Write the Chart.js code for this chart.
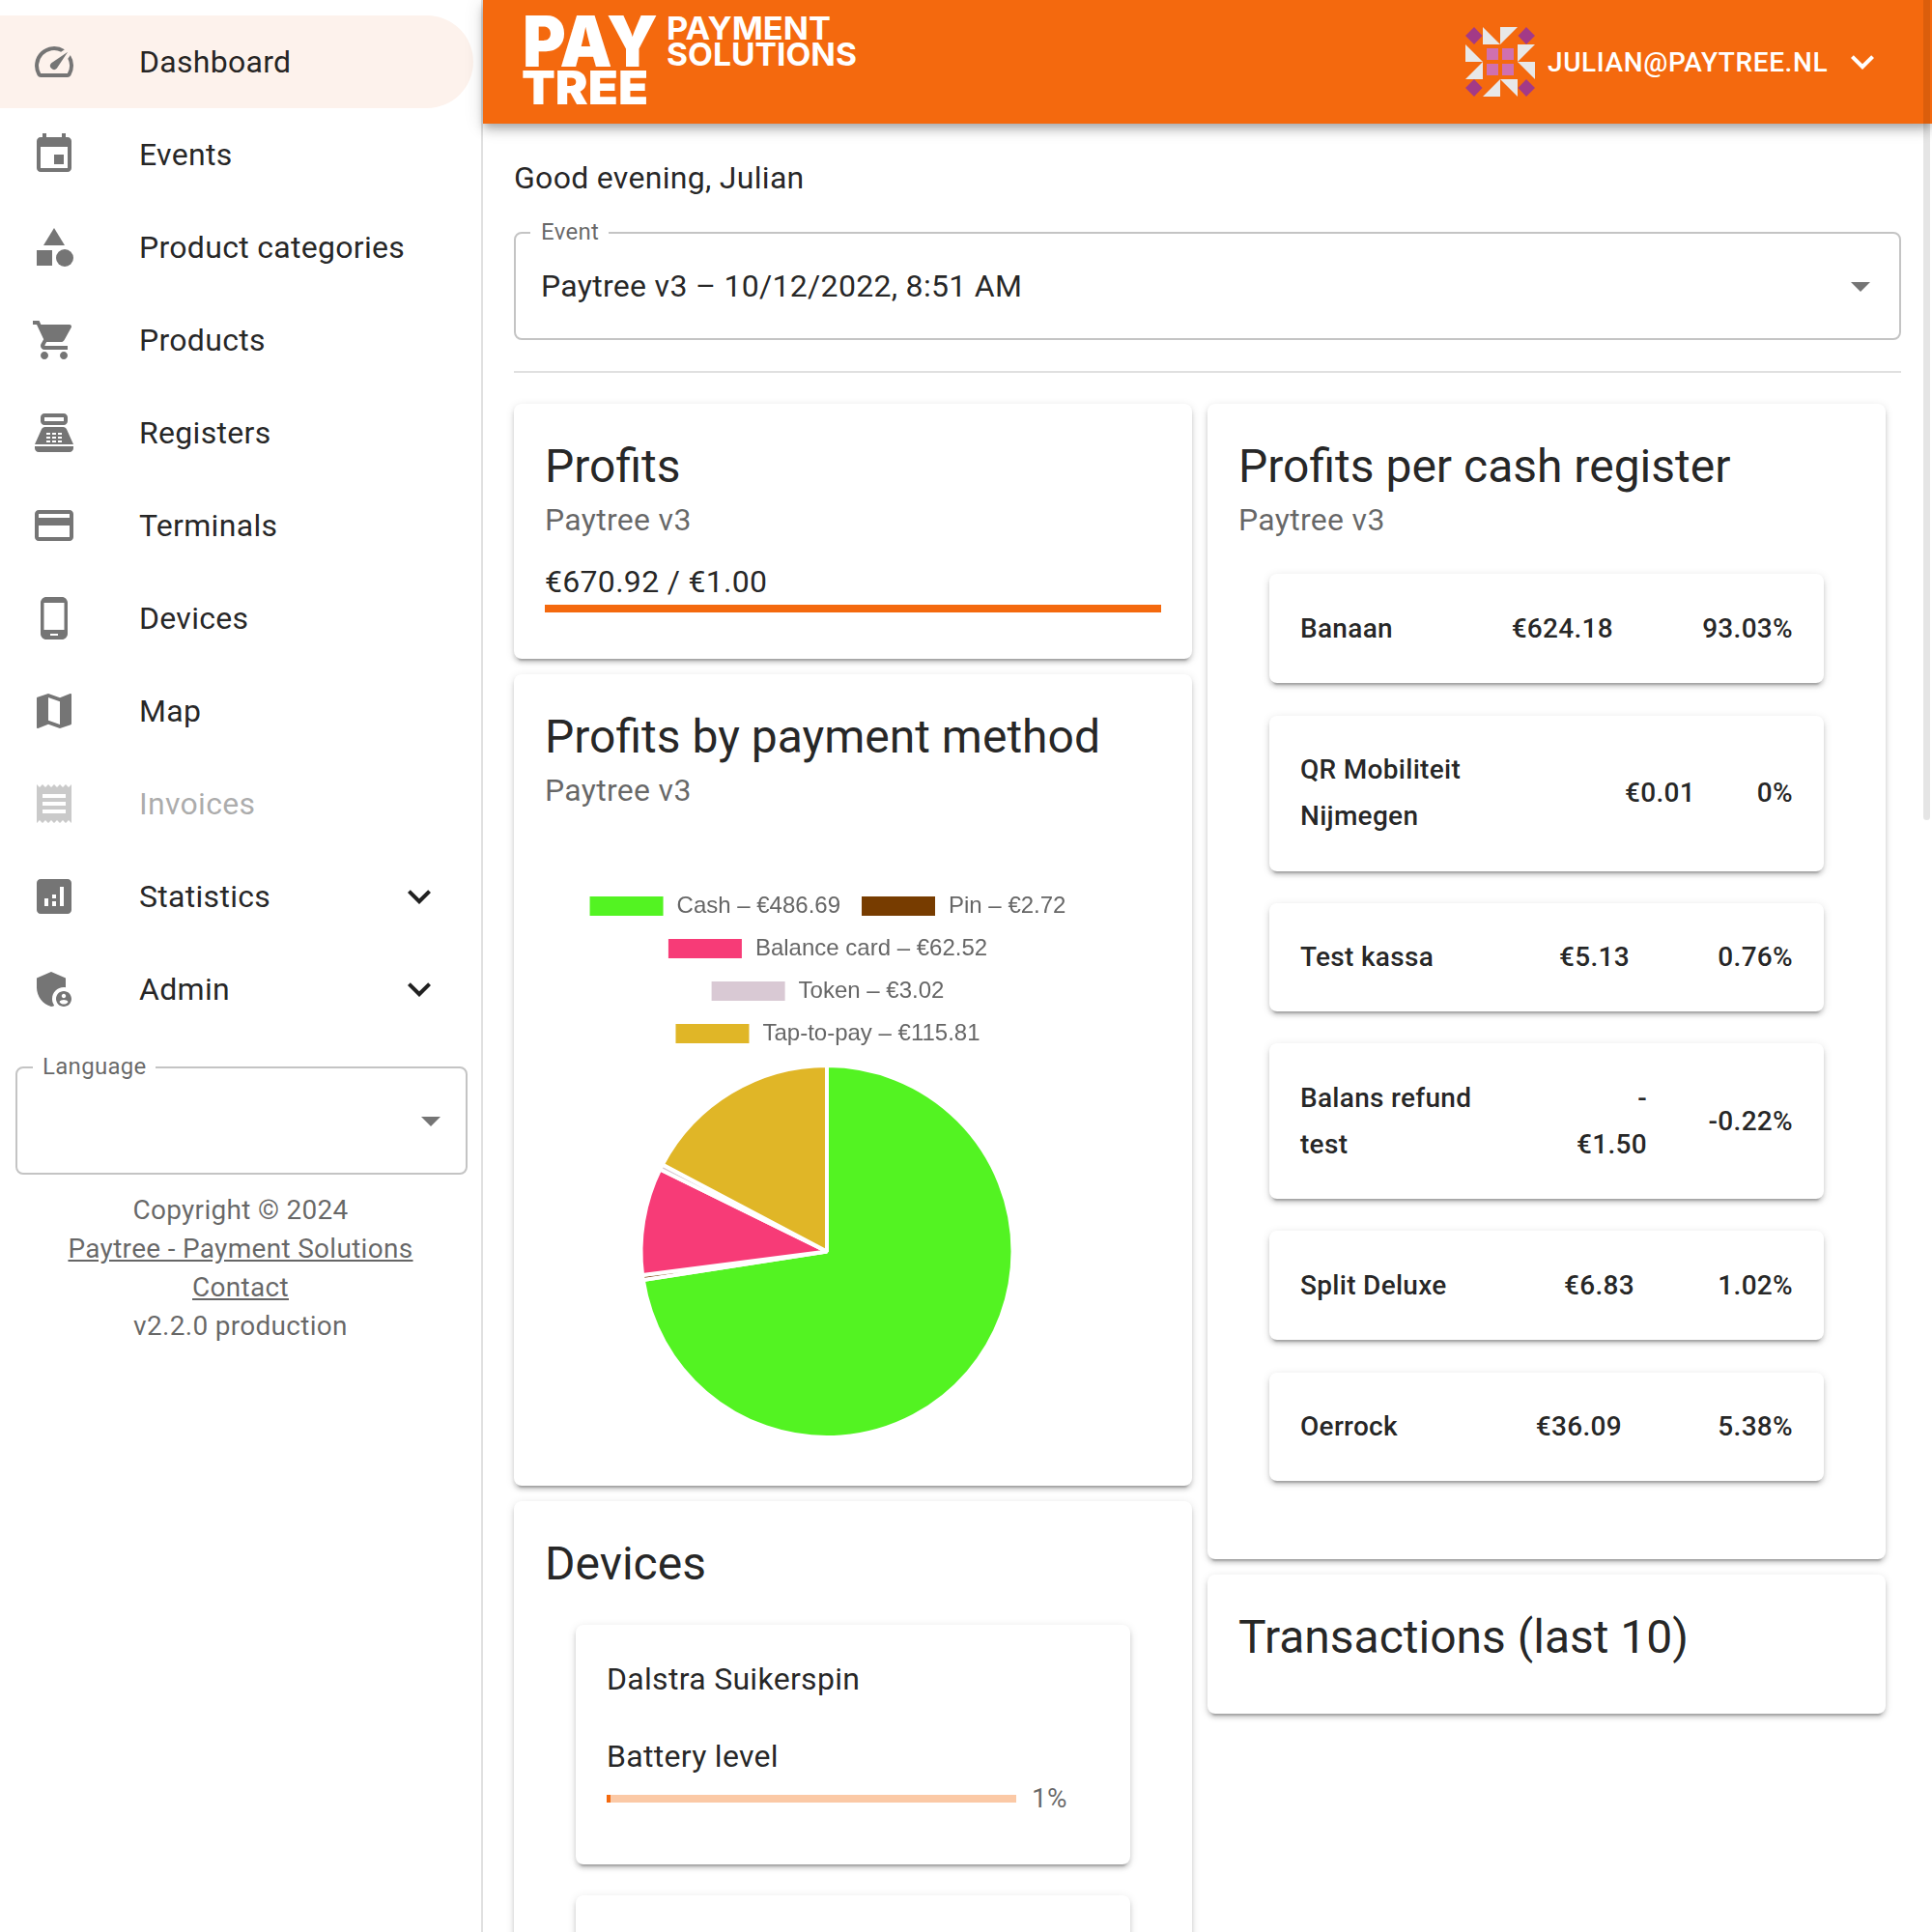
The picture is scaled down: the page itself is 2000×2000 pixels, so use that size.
<!DOCTYPE html>
<html>
<head>
<meta charset="utf-8">
<title>Paytree dashboard</title>
<script src="https://cdn.jsdelivr.net/npm/chart.js@4/dist/chart.umd.min.js"></script>
<style>
html,body{margin:0;padding:0;background:#fff;}
body{position:relative;width:2000px;height:2000px;overflow:hidden;font-family:Roboto,sans-serif;color:rgba(0,0,0,.87);}
.t{position:absolute;line-height:1;white-space:nowrap;transform:translateY(-50%);letter-spacing:.3px;}
.logo{position:absolute;line-height:.73;white-space:nowrap;font-family:Inter,sans-serif;color:#fff;transform-origin:left top;}
.box{position:absolute;box-sizing:border-box;}
.card{position:absolute;background:#fff;border-radius:8px;box-shadow:0 6px 2px -4px rgba(0,0,0,.2),0 4px 4px 0 rgba(0,0,0,.14),0 2px 10px 0 rgba(0,0,0,.12);}
.field{position:absolute;box-sizing:border-box;border:2px solid #c4c4c4;border-radius:8px;}
.notch{position:absolute;height:4px;background:#fff;}
.arrow{position:absolute;width:0;height:0;border-left:10px solid transparent;border-right:10px solid transparent;border-top:10px solid #757575;}
svg.icon{position:absolute;fill:#757575;}
.title{font-size:48px;letter-spacing:0;}
.sub{font-size:32px;color:rgba(0,0,0,.6);}
.link{text-decoration:underline;}
</style>
</head>
<body>

<!-- sidebar -->
<div class="box" style="left:498px;top:0;width:2px;height:2000px;background:#e0e0e0;"></div>
<div class="box" style="left:0;top:16px;width:490px;height:96px;background:#fdf2ec;border-radius:0 48px 48px 0;"></div>
<div id="nav"></div>

<div class="field" style="left:16px;top:1104px;width:468px;height:112px;"></div>
<div class="notch" style="left:34px;top:1102px;width:127px;"></div>
<div class="t" style="left:44px;top:1104px;font-size:24px;color:rgba(0,0,0,.6);">Language</div>
<div class="arrow" style="left:436px;top:1156px;"></div>
<div class="t" style="left:0;width:498px;text-align:center;top:1253px;font-size:28px;color:rgba(0,0,0,.6);">Copyright © 2024</div>
<div class="t link" style="left:0;width:498px;text-align:center;top:1293px;font-size:28px;color:rgba(0,0,0,.6);">Paytree - Payment Solutions</div>
<div class="t link" style="left:0;width:498px;text-align:center;top:1333px;font-size:28px;color:rgba(0,0,0,.6);">Contact</div>
<div class="t" style="left:0;width:498px;text-align:center;top:1373px;font-size:28px;color:rgba(0,0,0,.6);">v2.2.0 production</div>

<!-- header -->
<div class="box" style="left:500px;top:0;width:1500px;height:128px;background:#f4690e;box-shadow:0 4px 8px -2px rgba(0,0,0,.2),0 8px 10px 0 rgba(0,0,0,.14),0 2px 20px 0 rgba(0,0,0,.12);"></div>
<div class="logo" data-w="140" style="left:541px;top:16px;font-size:73px;font-weight:900;">PAY</div>
<div class="logo" data-w="131" style="left:540px;top:73px;font-size:48px;font-weight:900;">TREE</div>
<div class="logo" data-w="170" style="left:690px;top:17px;font-size:33px;font-weight:700;">PAYMENT</div>
<div class="logo" data-w="197" style="left:690px;top:44px;font-size:33px;font-weight:700;">SOLUTIONS</div>

<svg style="position:absolute;left:1517px;top:28px;" width="72" height="72" viewBox="0 0 72 72">
  <g fill="#a33a87">
    <polygon points="9,0 17.500,9 9,18 0,9"/>
    <polygon points="63,0 72,9 63,18 54.500,9"/>
    <polygon points="9,54 17.500,63 9,72 0,63"/>
    <polygon points="63,54 72,63 63,72 54.500,63"/>
  </g>
  <g fill="#e8e8e8">
    <polygon points="18,0 36,18 18,18"/>
    <polygon points="36,0 54,0 36,18"/>
    <polygon points="0,18 18,36 0,36"/>
    <polygon points="54,18 72,18 54,36"/>
    <polygon points="18,36 0,54 18,54"/>
    <polygon points="54,36 72,36 72,54"/>
    <polygon points="36,54 18,72 36,72"/>
    <polygon points="36,54 54,54 54,72"/>
  </g>
  <g fill="#d070b0">
    <rect x="22" y="22" width="12" height="12"/>
    <rect x="38" y="22" width="12" height="12"/>
    <rect x="22" y="38" width="12" height="12"/>
    <rect x="38" y="38" width="12" height="12"/>
  </g>
</svg>
<div class="t" style="left:1602px;top:65px;font-size:28px;font-weight:500;color:#fff;letter-spacing:.6px;">JULIAN@PAYTREE.NL</div>
<svg class="icon" style="left:1904px;top:40px;fill:#fff;" width="48" height="48" viewBox="0 0 24 24"><path d="M16.59 8.59L12 13.17 7.41 8.59 6 10l6 6 6-6z"/></svg>

<!-- top of content -->
<div class="t" style="left:532px;top:184px;font-size:32px;">Good evening, Julian</div>
<div class="field" style="left:532px;top:240px;width:1436px;height:112px;"></div>
<div class="notch" style="left:549px;top:238px;width:81px;"></div>
<div class="t" style="left:560px;top:240px;font-size:24px;color:rgba(0,0,0,.6);">Event</div>
<div class="t" style="left:560px;top:296px;font-size:32px;">Paytree v3 – 10/12/2022, 8:51 AM</div>
<div class="arrow" style="left:1916px;top:292px;"></div>
<div class="box" style="left:532px;top:384px;width:1436px;height:2px;background:#e0e0e0;"></div>

<!-- Profits -->
<div class="card" style="left:532px;top:418px;width:702px;height:264px;"></div>
<div class="t title" style="left:564px;top:483px;">Profits</div>
<div class="t sub" style="left:564px;top:538px;">Paytree v3</div>
<div class="t" style="left:564px;top:602px;font-size:32px;">€670.92 / €1.00</div>
<div class="box" style="left:564px;top:626px;width:638px;height:8px;background:#f4690e;"></div>

<!-- Profits by payment method -->
<div class="card" style="left:532px;top:698px;width:702px;height:840px;"></div>
<div class="t title" style="left:564px;top:763px;">Profits by payment method</div>
<div class="t sub" style="left:564px;top:818px;">Paytree v3</div>
<canvas id="methodChart" width="560" height="584" style="position:absolute;left:576px;top:906px;width:560px;height:584px;"></canvas>

<!-- Devices -->
<div class="card" style="left:532px;top:1554px;width:702px;height:500px;"></div>
<div class="t title" style="left:564px;top:1619px;">Devices</div>
<div class="card" style="left:596px;top:1682px;width:574px;height:248px;"></div>
<div class="t" style="left:628px;top:1738px;font-size:32px;">Dalstra Suikerspin</div>
<div class="t" style="left:628px;top:1818px;font-size:32px;">Battery level</div>
<div class="box" style="left:628px;top:1858px;width:424px;height:8px;background:#fbc9a6;"></div>
<div class="box" style="left:628px;top:1858px;width:4px;height:8px;background:#f4690e;"></div>
<div class="t" style="left:1068px;top:1862px;font-size:28px;color:rgba(0,0,0,.6);">1%</div>
<div class="card" style="left:596px;top:1962px;width:574px;height:100px;"></div>

<!-- Profits per cash register -->
<div class="card" style="left:1250px;top:418px;width:702px;height:1196px;"></div>
<div class="t title" style="left:1282px;top:483px;">Profits per cash register</div>
<div class="t sub" style="left:1282px;top:538px;">Paytree v3</div>
<div id="registers"></div>

<!-- Transactions -->
<div class="card" style="left:1250px;top:1630px;width:702px;height:144px;"></div>
<div class="t title" style="left:1282px;top:1695px;">Transactions (last 10)</div>

<!-- scrollbar thumb -->
<div class="box" style="left:1991px;top:0;width:7px;height:849px;background:rgba(0,0,0,.1);border-radius:0 0 4px 4px;"></div>

<script>
// payment methods in the pie
const methodNames = ['Cash', 'Pin', 'Balance card', 'Token', 'Tap-to-pay'];
const methodProfits = [486.69, 2.72, 62.52, 3.02, 115.81];
const methodColors = ['#53f322', '#773c00', '#f73b77', '#d9c9d4', '#e0b627'];

// sidebar
const navLabels = ['Dashboard', 'Events', 'Product categories', 'Products', 'Registers', 'Terminals', 'Devices', 'Map', 'Invoices', 'Statistics', 'Admin'];
const navIcons = [
    '<path d="M20.38 8.57l-1.23 1.85a8 8 0 0 1-.22 7.58H5.07A8 8 0 0 1 15.58 6.85l1.85-1.23A10 10 0 0 0 3.35 19a2 2 0 0 0 1.72 1h13.85a2 2 0 0 0 1.74-1 10 10 0 0 0-.27-10.44zm-9.79 6.84a2 2 0 0 0 2.83 0l5.66-8.49-8.49 5.66a2 2 0 0 0 0 2.83z"/>',
    '<path d="M17 12h-5v5h5v-5zM16 1v2H8V1H6v2H5c-1.11 0-1.99.9-1.99 2L3 19c0 1.1.89 2 2 2h14c1.1 0 2-.9 2-2V5c0-1.1-.9-2-2-2h-1V1h-2zm3 18H5V8h14v11z"/>',
    '<path d="M12 2l-5.5 9h11z"/><circle cx="17.5" cy="17.5" r="4.5"/><path d="M3 13.5h8v8H3z"/>',
    '<path d="M7 18c-1.1 0-1.99.9-1.99 2S5.9 22 7 22s2-.9 2-2-.9-2-2-2zM1 2v2h2l3.6 7.59-1.35 2.45c-.16.28-.25.61-.25.96 0 1.1.9 2 2 2h12v-2H7.42c-.14 0-.25-.11-.25-.25l.03-.12.9-1.63h7.45c.75 0 1.41-.41 1.75-1.03l3.58-6.49c.08-.14.12-.31.12-.48 0-.55-.45-1-1-1H5.21l-.94-2H1zm16 16c-1.1 0-1.99.9-1.99 2s.89 2 1.99 2 2-.9 2-2-.9-2-2-2z"/>',
    '<path d="M17 2H7c-1.1 0-2 .9-2 2v2c0 1.1.9 2 2 2h10c1.1 0 2-.9 2-2V4c0-1.1-.9-2-2-2zm0 4H7V4h10v2zm3 16H4c-1.1 0-2-.9-2-2v-1h20v1c0 1.1-.9 2-2 2z"/><path fill-rule="evenodd" d="M18.53 10.19C18.21 9.47 17.49 9 16.7 9H7.3c-.79 0-1.51.47-1.83 1.19L2 18h20l-3.47-7.81zM8 12h2v1H8zm0 2h2v1H8zm0 2h2v1H8zm3-4h2v1h-2zm0 2h2v1h-2zm0 2h2v1h-2zm3-4h2v1h-2zm0 2h2v1h-2zm0 2h2v1h-2z"/>',
    '<path d="M20 4H4c-1.11 0-1.99.89-1.99 2L2 18c0 1.11.89 2 2 2h16c1.11 0 2-.89 2-2V6c0-1.11-.89-2-2-2zm0 14H4v-6h16v6zm0-10H4V6h16v2z"/>',
    '<path d="M16 1H8C6.34 1 5 2.34 5 4v16c0 1.66 1.34 3 3 3h8c1.66 0 3-1.34 3-3V4c0-1.66-1.34-3-3-3zm-2 20h-4v-1h4v1zm3.25-3H6.75V4h10.5v14z"/>',
    '<path d="M20.5 3l-.16.03L15 5.1 9 3 3.36 4.9c-.21.07-.36.25-.36.48V20.5c0 .28.22.5.5.5l.16-.03L9 18.9l6 2.1 5.64-1.9c.21-.07.36-.25.36-.48V3.5c0-.28-.22-.5-.5-.5zM15 19l-6-2.11V5l6 2.11V19z"/>',
    '<path d="M18 17H6v-2h12v2zm0-4H6v-2h12v2zm0-4H6V7h12v2zM3 22l1.5-1.5L6 22l1.5-1.5L9 22l1.5-1.5L12 22l1.5-1.5L15 22l1.5-1.5L18 22l1.5-1.5L21 22V2l-1.5 1.5L18 2l-1.5 1.5L15 2l-1.5 1.5L12 2l-1.5 1.5L9 2 7.5 3.5 6 2 4.5 3.5 3 2v20z"/>',
    '<path fill-rule="evenodd" d="M19 3H5c-1.1 0-2 .9-2 2v14c0 1.1.9 2 2 2h14c1.1 0 2-.9 2-2V5c0-1.1-.9-2-2-2zM7 13h2v4H7zm4-2h2v2h-2zm0 3.500h2V17h-2zm4-7.500h2v10h-2z"/>',
    '<path d="M17 11c.34 0 .67.04 1 .09V6.27L10.5 3 3 6.27v4.91c0 4.54 3.2 8.79 7.5 9.82.55-.13 1.08-.32 1.6-.55-.69-.98-1.1-2.17-1.1-3.45 0-3.31 2.69-6 6-6z"/><path d="M17 13c-2.21 0-4 1.79-4 4s1.79 4 4 4 4-1.79 4-4-1.79-4-4-4zm0 1.38c.62 0 1.12.51 1.12 1.12s-.51 1.12-1.12 1.12-1.12-.51-1.12-1.12.5-1.12 1.12-1.12zm0 5.37c-.93 0-1.74-.46-2.24-1.17.05-.72 1.51-1.08 2.24-1.08s2.19.36 2.24 1.08c-.5.71-1.31 1.17-2.24 1.17z"/>'
];
const chevron = '<path d="M16.59 8.59L12 13.17 7.41 8.59 6 10l6 6 6-6z"/>';

// cash registers card
const registerNames = [['Banaan'], ['QR Mobiliteit', 'Nijmegen'], ['Test kassa'], ['Balans refund', 'test'], ['Split Deluxe'], ['Oerrock']];
const registerAmounts = [['€624.18'], ['€0.01'], ['€5.13'], ['-', '€1.50'], ['€6.83'], ['€36.09']];
const registerShares = ['93.03%', '0%', '0.76%', '-0.22%', '1.02%', '5.38%'];
const registerTops = [594, 741, 935, 1080, 1274, 1421];
const registerHeights = [113, 161, 112, 161, 113, 112];
const registerCenters = [651, 820.5, 991, 1161, 1331, 1477];
const registerAmountRight = [1670, 1755, 1687, 1705, 1692, 1679];

function buildNav() {
    let html = '';
    navLabels.forEach(function(label, i) {
        const cy = 64 + i * 96;
        const faded = label === 'Invoices';
        html += `<svg class="icon" style="left:32px;top:${cy - 24}px;${faded ? 'opacity:.38;' : ''}" width="48" height="48" viewBox="0 0 24 24">${navIcons[i]}</svg>`;
        html += `<div class="t" style="left:144px;top:${cy}px;font-size:32px;${faded ? 'opacity:.38;' : ''}">${label}</div>`;
        if (label === 'Statistics' || label === 'Admin') {
            html += `<svg class="icon" style="left:410px;top:${cy - 24}px;fill:rgba(0,0,0,.87);" width="48" height="48" viewBox="0 0 24 24">${chevron}</svg>`;
        }
    });
    document.getElementById('nav').innerHTML = html;
}

function buildRegisters() {
    let html = '';
    registerNames.forEach(function(lines, i) {
        const top = registerTops[i];
        const h = registerHeights[i];
        const cy = registerCenters[i];
        html += `<div class="card" style="left:1314px;top:${top}px;width:574px;height:${h}px;"></div>`;
        const nameTop = cy - (lines.length - 1) * 24;
        lines.forEach(function(line, j) {
            html += `<div class="t" style="left:1346px;top:${nameTop + j * 48}px;font-size:28px;font-weight:500;">${line}</div>`;
        });
        const amounts = registerAmounts[i];
        const amountTop = cy - (amounts.length - 1) * 24;
        amounts.forEach(function(line, j) {
            html += `<div class="t" style="right:${2000 - registerAmountRight[i]}px;top:${amountTop + j * 48}px;font-size:28px;font-weight:500;">${line}</div>`;
        });
        html += `<div class="t" style="right:144px;top:${cy}px;font-size:28px;font-weight:500;">${registerShares[i]}</div>`;
    });
    document.getElementById('registers').innerHTML = html;
}

// squeeze the logo words to the width they have in the artwork
function fitLogo() {
    document.querySelectorAll('.logo').forEach(function(el) {
        const scale = Number(el.dataset.w) / el.getBoundingClientRect().width;
        el.style.transform = `scaleX(${scale})`;
    });
}

function buildChart() {
    new Chart(document.getElementById('methodChart').getContext('2d'), {
        type: 'pie',
        data: {
            labels: methodNames.map((name, i) => `${name} – €${methodProfits[i].toFixed(2)}`),
            datasets: [{
                data: methodProfits,
                backgroundColor: methodColors,
                borderColor: '#fff',
                borderWidth: 4
            }]
        },
        plugins: [{
            // leave a little more room under the legend
            id: 'legendGap',
            beforeInit(chart) {
                const fit = chart.legend.fit;
                chart.legend.fit = function() {
                    fit.call(this);
                    this.height += 9;
                };
            }
        }],
        options: {
            responsive: false,
            animation: false,
            plugins: {
                legend: {
                    display: true,
                    position: 'top',
                    labels: {
                        boxWidth: 80,
                        boxHeight: 24,
                        padding: 20,
                        color: '#666',
                        font: { family: '"Liberation Sans", Helvetica, Arial, sans-serif', size: 24 }
                    }
                },
                tooltip: { enabled: false }
            }
        }
    });
}

buildNav();
buildRegisters();
fitLogo();
buildChart();
</script>
</body>
</html>
